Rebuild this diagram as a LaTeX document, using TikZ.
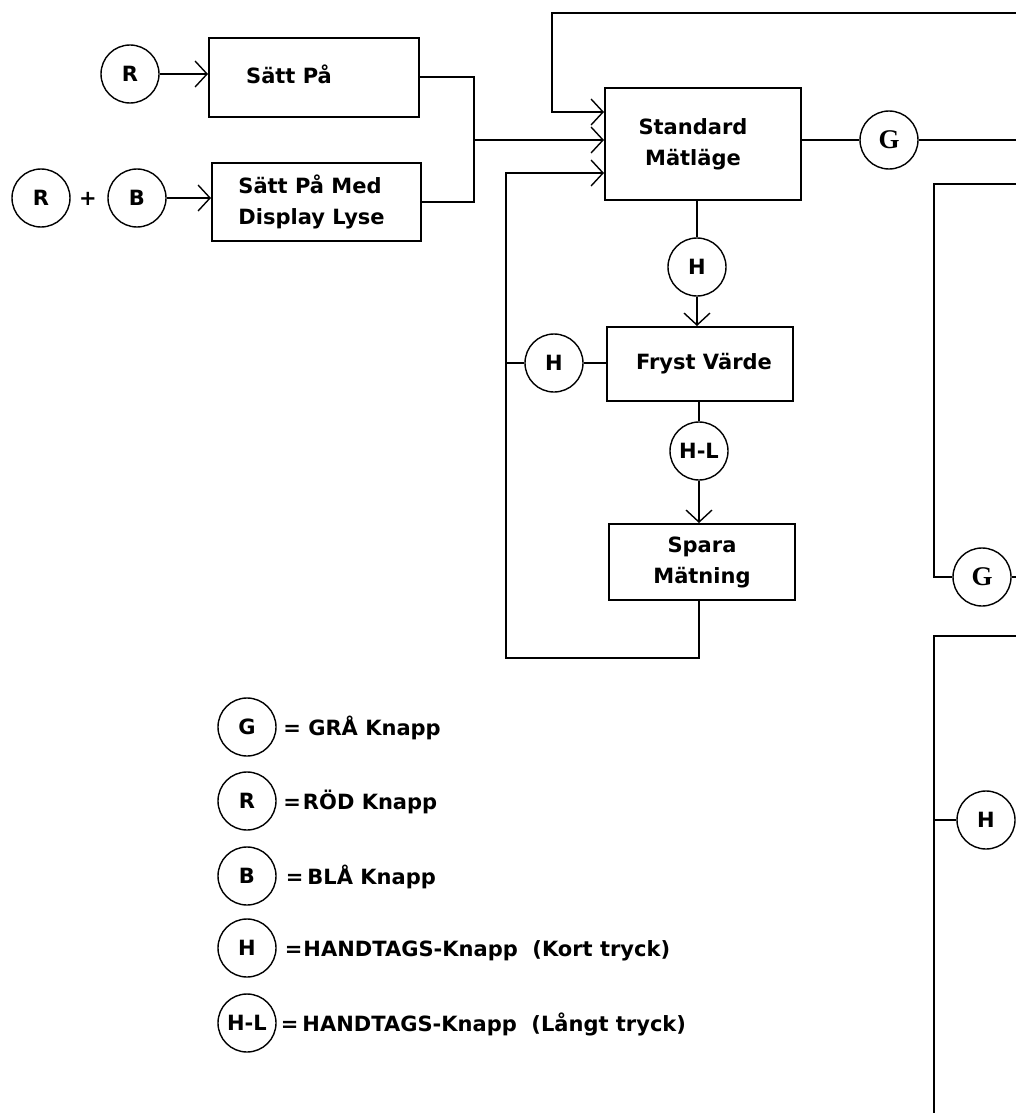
\documentclass[tikz,border=0pt]{standalone}
\usepackage{fontspec}
\setmainfont{DejaVu Sans}
\newfontfamily\serifG{Liberation Serif}
\usetikzlibrary{arrows.meta}
\begin{document}
\begin{tikzpicture}[x=0.5pt,y=-0.5pt,
  every node/.style={font=\fontsize{10.5}{15.5}\selectfont\bfseries},
  ln/.style={line width=1pt},
  arr/.style={ln,-{Straight Barb[length=6pt,width=13pt,line width=0.7pt]}},
  btn/.style={circle,draw,line width=0.7pt,minimum size=29pt,inner sep=0pt},
  box/.style={draw,line width=1pt,inner sep=0pt},
  lbl/.style={inner sep=0pt,align=center},
  leg/.style={inner sep=0pt,anchor=base west},
  sg/.style={font=\serifG\fontsize{13.5}{15}\selectfont\bfseries},
]
\useasboundingbox (0,0) rectangle (1016,1113);

% boxes
\node[box,minimum width=105pt,minimum height=39.5pt,
  label={[lbl,xshift=-12.5pt,yshift=1.5pt]center:Sätt På}] (s1) at (314,77.5) {};
\node[box,minimum width=104.5pt,minimum height=39pt,
  label={[lbl,align=left,anchor=west,xshift=13.5pt]west:Sätt På Med\\Display Lyse}] (s2) at (316.5,202) {};
\node[box,minimum width=98pt,minimum height=56pt,
  label={[lbl,xshift=-5pt]center:Standard\\Mätläge}] (std) at (703,144) {};
\node[box,minimum width=93pt,minimum height=37pt,
  label={[lbl,xshift=2pt]center:Fryst Värde}] (fr) at (700,364) {};
\node[box,minimum width=93pt,minimum height=38pt,
  label={[lbl,xshift=0pt]center:Spara\\Mätning}] (sp) at (702,562) {};

% buttons
\node[btn] (r1) at (130,74) {R};
\node[btn] (r2) at (41,198) {R};
\node[lbl] (plus) at (88,199) {+};
\node[btn] (b) at (137,198) {B};
\node[btn] (h1) at (697,267) {H};
\node[btn] (h2) at (554,363) {H};
\node[btn] (hl) at (699,451) {H-L};
\node[btn,sg] (g1) at (889,140) {G};
\node[btn,sg] (g2) at (982,577) {G};
\node[btn] (h3) at (986,820) {H};

% coordinates
\coordinate (j) at (474,140);
\coordinate (t1) at (1016,13);
\coordinate (ti) at (552,112);
\coordinate (lo1) at (506,658);
\coordinate (lo2) at (506,173);
\coordinate (hj) at (506,363);
\coordinate (ge) at (1016,140);
\coordinate (rb1) at (1016,184);
\coordinate (rb2) at (934,577);
\coordinate (g2e) at (1016,577);
\coordinate (rc1) at (1016,636);
\coordinate (rc2) at (934,1113);
\coordinate (rc3) at (934,820);

% connectors
\draw[arr] (r1) -- (r1 -| s1.west);
\draw[arr] (b) -- (b -| s2.west);
\draw[ln] (s1.east) -| (j) |- (s2.east);
\draw[arr] (j) -- (j -| std.west);
\draw[arr] (t1) -| (ti) -- (ti -| std.west);
\draw[arr] (hl |- sp.south) |- (lo1) -- (lo2) -- (lo2 -| std.west);
\draw[ln] (hj) -- (h2);
\draw[ln] (h2) -- (h2 -| fr.west);
\draw[ln] (h1 |- std.south) -- (h1);
\draw[arr] (h1) -- (h1 |- fr.north);
\draw[ln] (hl |- fr.south) -- (hl);
\draw[arr] (hl) -- (hl |- sp.north);
\draw[ln] (std.east |- g1) -- (g1);
\draw[ln] (g1) -- (ge);
\draw[ln] (rb1) -| (rb2) -- (g2);
\draw[ln] (g2) -- (g2e);
\draw[ln] (rc1) -| (rc2);
\draw[ln] (rc3) -- (h3);

% legend
\node[btn] (lg) at (247,727) {G};
\node[btn] (lr) at (247,801) {R};
\node[btn] (lb) at (247,876) {B};
\node[btn] (lh) at (247,948) {H};
\node[btn] (lhl) at (247,1023) {H-L};
\node[leg] (tg) at (283,735) {= GRÅ Knapp};
\node[leg] (tr) at (283,809) {=\hspace{1pt}RÖD Knapp};
\node[leg] (tb) at (285.5,884) {=\hspace{2pt}BLÅ Knapp};
\node[leg] (th) at (284.5,956) {=\hspace{0.5pt}HANDTAGS-Knapp~~(Kort tryck)};
\node[leg] (thl) at (280.5,1031) {=\hspace{2pt}HANDTAGS-Knapp~~(Långt tryck)};
\end{tikzpicture}
\end{document}
